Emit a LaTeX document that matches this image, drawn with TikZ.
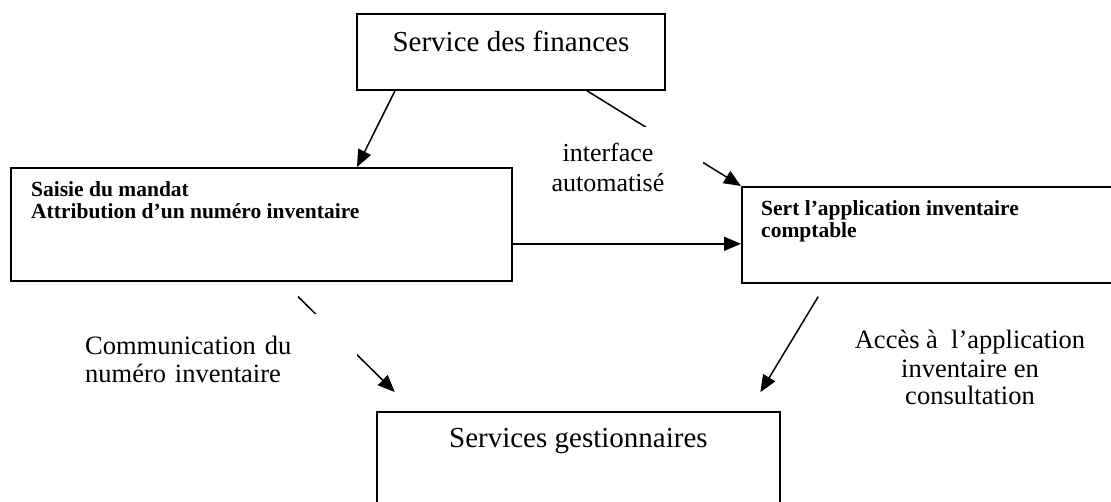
\documentclass[tikz,border=0pt]{standalone}
\usepackage{fontspec}
\setmainfont{Liberation Serif}
\usetikzlibrary{arrows.meta}
\begin{document}
\begin{tikzpicture}[x=1pt,y=-1pt,
  box/.style={draw, line width=1.8pt, inner sep=0pt, anchor=north west},
  arr/.style={-{Triangle[length=17pt,width=14pt]}, line width=1.5pt},
  bigtext/.style={font=\fontsize{29}{32}\selectfont},
  captext/.style={font=\fontsize{26.5}{28}\selectfont},
  boldtext/.style={font=\fontsize{21.5}{22}\selectfont\bfseries, align=left, inner sep=0pt, anchor=base west},
]
\useasboundingbox (0,0) rectangle (1111,502);

% boxes
\node[box, bigtext, minimum width=308pt, text height=38pt, text depth=38pt] (fin) at (356,13) {Service des finances};
\node[box, minimum width=501pt, minimum height=113pt,
  label={[boldtext, xshift=21pt, yshift=-52pt]north west:{Saisie du mandat\\Attribution d’un numéro inventaire}}] (lb) at (10,167) {};
\node[box, minimum width=420pt, minimum height=96pt,
  label={[boldtext, xshift=20pt, yshift=-52pt]north west:{Sert l’application inventaire\\comptable}}] (sert) at (741,186) {};
\node[box, bigtext, minimum width=403pt, text height=36pt, text depth=90pt] (gest) at (376,411) {Services gestionnaires};

% connectors
\draw[arr] ([xshift=39pt]fin.south west) -- ([xshift=347pt]lb.north west);
\draw[arr] ([xshift=231pt]fin.south west) -- (sert.north west);
\draw[arr] ([yshift=38pt]lb.south east) -- ([yshift=40pt]sert.south west);
\draw[arr, shorten <=21pt, shorten >=27pt] ([xshift=273pt]lb.south west) -- ([xshift=38pt]gest.north west);
\draw[arr, shorten <=15pt, shorten >=22pt] ([xshift=85pt]sert.south west) -- ([xshift=373pt]gest.north west);

% connector captions (white text boxes over the lines)
\node[font=\fontsize{26}{30}\selectfont, align=center, fill=white, text width=160pt,
  inner xsep=15pt, inner ysep=17pt, anchor=base] (iface) at (608,162) {interface\\automatisé};
\node[captext, align=left, fill=white, text width=257pt,
  inner xsep=15pt, inner ysep=23pt, anchor=base west] (comm) at (70,355) {Communication du\\numéro inventaire};
\node[captext, align=center, anchor=base] (acces) at (970,405) {Accès à~~l’application\\inventaire en\\consultation};
\end{tikzpicture}
\end{document}
